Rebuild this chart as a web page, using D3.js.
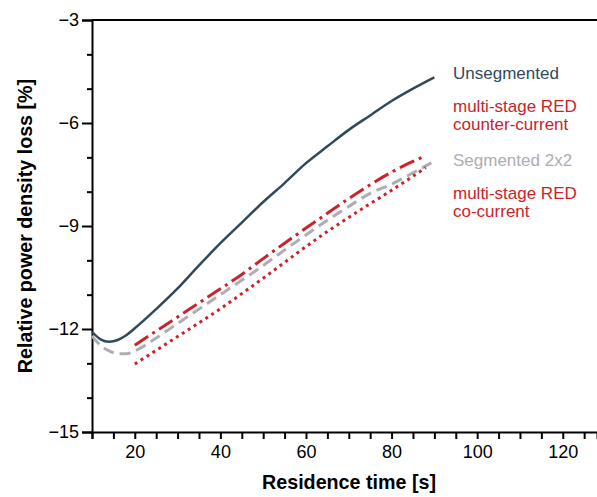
<!DOCTYPE html>
<html>
<head>
<meta charset="utf-8">
<script src="https://cdn.jsdelivr.net/npm/d3@7"></script>
<style>
  body { margin: 0; background: #fff; }
  svg { font-family: "Liberation Sans", Arial, sans-serif; }
</style>
</head>
<body>
<div id="chart"></div>
<script>
// residence time [s] and relative power density loss [%]
const unsegX = [10, 12, 14, 16, 18, 20, 25, 30, 35, 40, 45, 50, 55, 60, 65, 70, 75, 80, 85, 90];
const unsegY = [-12.08, -12.3, -12.37, -12.32, -12.18, -11.98, -11.42, -10.82, -10.15, -9.5, -8.9, -8.3, -7.75, -7.17, -6.68, -6.2, -5.78, -5.36, -5.0, -4.67];

const counterX = [20, 25, 30, 35, 40, 45, 50, 55, 60, 65, 70, 75, 80, 85, 88];
const counterY = [-12.47, -12.06, -11.65, -11.24, -10.83, -10.41, -9.95, -9.5, -9.06, -8.63, -8.2, -7.8, -7.43, -7.12, -6.95];

const segX = [10, 12, 14, 16, 18, 20, 25, 30, 35, 40, 45, 50, 55, 60, 65, 70, 75, 80, 85, 89.3];
const segY = [-12.2, -12.48, -12.64, -12.72, -12.72, -12.64, -12.26, -11.84, -11.42, -11.0, -10.58, -10.15, -9.7, -9.26, -8.83, -8.43, -8.05, -7.78, -7.45, -7.16];

const coX = [20, 25, 30, 35, 40, 45, 50, 55, 60, 65, 70, 75, 80, 85, 88];
const coY = [-13.02, -12.62, -12.22, -11.82, -11.41, -10.97, -10.52, -10.06, -9.6, -9.16, -8.75, -8.35, -7.96, -7.55, -7.3];

const legendLabels = [["Unsegmented"], ["multi-stage RED", "counter-current"], ["Segmented 2x2"], ["multi-stage RED", "co-current"]];

const yTicks = d3.range(-15, -2, 1);
const yLabels = [-15, -12, -9, -6, -3];
const xTicks = d3.range(10, 128, 5);
const xLabels = [20, 40, 60, 80, 100, 120];

const W = 597, H = 497;
const margin = {top: 20, left: 92, bottom: 65};

const x = d3.scaleLinear().domain([10, 128]).range([margin.left, W]);
const y = d3.scaleLinear().domain([-15, -3]).range([H - margin.bottom, margin.top]);

const colDark = "#304a5b", colRed = "#cc2229", colGray = "#aeadb3";

const series = [
  {xs: segX, ys: segY, color: colGray, dash: "11,6", width: 3},
  {xs: coX, ys: coY, color: colRed, dash: "3,4", width: 3},
  {xs: counterX, ys: counterY, color: colRed, dash: "16,5,3,5", width: 3},
  {xs: unsegX, ys: unsegY, color: colDark, dash: null, width: 2.5}
];

const svg = d3.select("#chart").append("svg")
  .attr("width", W)
  .attr("height", H);

// top frame line
svg.append("line")
  .attr("x1", x(10)).attr("x2", W)
  .attr("y1", y(-3)).attr("y2", y(-3))
  .attr("stroke", "#000").attr("stroke-width", 2);

// y axis
let yAxis = svg.append("g")
  .attr("transform", "translate(" + x(10) + ",0)")
  .call(d3.axisLeft(y).tickValues(yTicks).tickSizeOuter(0).tickSize(10).tickPadding(3)
    .tickFormat(d => yLabels.indexOf(d) >= 0 ? d3.format("d")(d) : ""));
yAxis.select(".domain").attr("stroke-width", 2);
yAxis.selectAll(".tick line").attr("stroke-width", 2)
  .attr("x2", d => yLabels.indexOf(d) >= 0 ? -10 : -5);
yAxis.selectAll(".tick text").attr("font-size", 18).attr("fill", "#000")
  .attr("font-family", "Liberation Sans, Arial, sans-serif");

// x axis
let xAxis = svg.append("g")
  .attr("transform", "translate(0," + y(-15) + ")")
  .call(d3.axisBottom(x).tickValues(xTicks).tickSizeOuter(0).tickSize(7).tickPadding(6)
    .tickFormat(d => xLabels.indexOf(d) >= 0 ? d : ""));
xAxis.select(".domain").attr("stroke-width", 2);
xAxis.selectAll(".tick line").attr("stroke-width", 2);
xAxis.selectAll(".tick text").attr("font-size", 18).attr("fill", "#000")
  .attr("font-family", "Liberation Sans, Arial, sans-serif");

// lines
const line = d3.line().curve(d3.curveMonotoneX)
  .x(d => x(d[0])).y(d => y(d[1]));

series.forEach(s => {
  svg.append("path")
    .datum(s.xs.map((v, i) => [v, s.ys[i]]))
    .attr("d", line)
    .attr("fill", "none")
    .attr("stroke", s.color)
    .attr("stroke-width", s.width)
    .attr("stroke-dasharray", s.dash);
});

// legend
const legendColors = [colDark, colRed, colGray, colRed];
const legendY = [79, 112, 166, 199];
legendLabels.forEach((lines, i) => {
  lines.forEach((t, j) => {
    svg.append("text")
      .attr("x", 453)
      .attr("y", legendY[i] + j * 18)
      .attr("font-size", 17)
      .attr("fill", legendColors[i])
      .text(t);
  });
});

// axis titles
svg.append("text")
  .attr("x", 349).attr("y", 489)
  .attr("text-anchor", "middle")
  .attr("font-size", 19.7).attr("font-weight", "bold")
  .text("Residence time [s]");

svg.append("text")
  .attr("transform", "translate(32," + ((y(-3) + y(-15)) / 2) + ") rotate(-90)")
  .attr("text-anchor", "middle")
  .attr("font-size", 19.7).attr("font-weight", "bold")
  .text("Relative power density loss [%]");
</script>
</body>
</html>
